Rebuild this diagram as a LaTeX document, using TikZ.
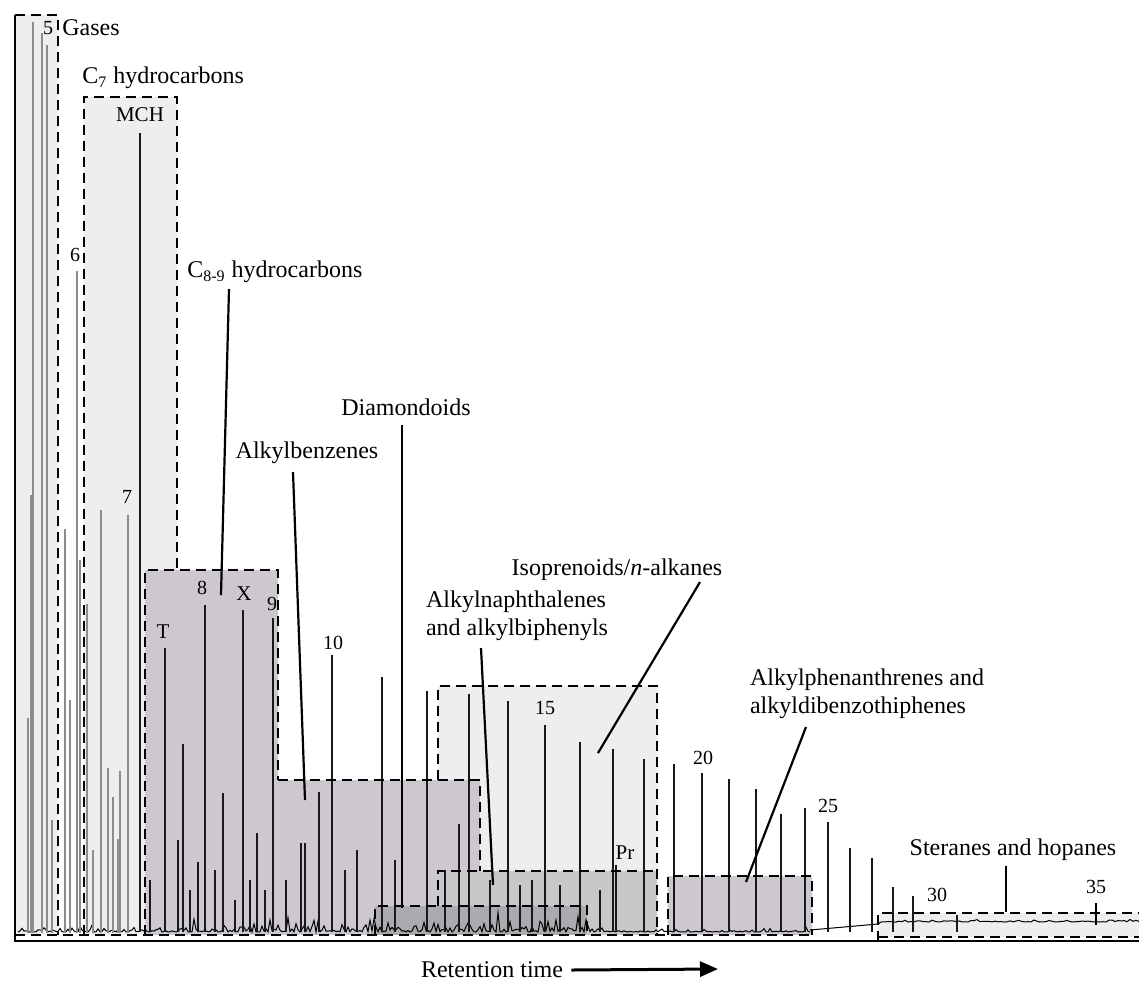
\documentclass[tikz,border=0pt]{standalone}
\usepackage{fontspec}
\setmainfont{Liberation Serif}
\usetikzlibrary{arrows.meta}

\definecolor{lightbox}{RGB}{238,238,238}
\definecolor{mauvebox}{RGB}{205,200,208}
\definecolor{midbox}{RGB}{200,199,201}
\definecolor{darkbox}{RGB}{172,170,174}

\tikzset{
	box/.style={line width=1.3pt, dash pattern=on 5pt off 3pt},
	peak/.style={line width=0.75pt, black!90},
	gpeak/.style={line width=0.9pt, black!45},
	leader/.style={line width=1.1pt},
	lbl/.style={font=\fontsize{12}{14}\selectfont, inner sep=1pt},
	num/.style={font=\fontsize{10}{12}\selectfont, inner sep=1pt},
}

\begin{document}
\begin{tikzpicture}[x=0.5pt,y=-0.5pt]
		
		\useasboundingbox (0,0) rectangle (1139,986);
		
		% shaded windows
		\fill[lightbox] (15,15) rectangle (58,935);
		\fill[lightbox] (84,97) rectangle (177,935);
		\fill[lightbox] (438,686) rectangle (657,935);
		\fill[lightbox] (878,913) rectangle (1139,937);
		\fill[mauvebox] (145,570) rectangle (278,935);
		\fill[mauvebox] (278,780) rectangle (480,935);
		\fill[midbox] (438,871) rectangle (657,935);
		\fill[darkbox] (375,906) rectangle (587,935);
		\fill[mauvebox] (668,876) rectangle (812,935);
		
		% baseline noise
		\pgfmathsetseed{42}
		\draw[line width=0.5pt] (18,932) foreach \i in {20,22,...,810} { -- (\i,{932-(\i<600?(\i>190?22:12):7)*rnd*rnd*rnd}) };
		\draw[line width=0.5pt] (810,930) -- (878,924) foreach \i in {881,884,...,1139} { -- (\i,{922-3*rnd*rnd}) };
		
		% peaks
		\foreach \x/\y in {28/718,31/495,33/22,42/33,47/45,52/820,65/529,70/700,77/271,80/560,
			87/604,93/850,101/510,108/768,113/797,118/839,120/771,128/515}
			\draw[gpeak] (\x,\y) -- (\x,933);
		\foreach \x/\y in {140/133,150/880,165/648,178/840,183/744,190/890,198/862,205/605,215/870,
			223/793,235/900,243/610,250/880,257/833,265/890,273/618,286/880,301/843,305/843,319/792,
			332/655,345/870,357/850,382/677,395/860,427/691,445/870,459/824,469/694,490/880,508/701,
			520/885,532/880,545/725,560/885,580/742,600/890,613/749,616/865,644/759,674/764,702/773,
			729/779,756/789,781/814,805/808,828/822,850/848,872/858,893/887,913/896,957/915}
			\draw[peak] (\x,\y) -- (\x,932);
		\draw[line width=1pt] (1096,903) -- (1096,925);
		
		% dashed windows
		\draw[box] (15,15) -- (58,15) -- (58,935);
		\draw[box] (84,935) -- (84,97) -- (177,97) -- (177,570);
		\draw[box] (145,935) -- (145,570) -- (278,570) -- (278,780);
		\draw[box] (278,780) -- (480,780) -- (480,871);
		\draw[box] (438,780) -- (438,686) -- (657,686) -- (657,935);
		\draw[box] (438,906) -- (438,871) -- (657,871);
		\draw[box] (375,935) -- (375,906) -- (587,906) -- (587,935);
		\draw[box] (15,935) -- (812,935);
		\draw[box] (668,935) -- (668,876) -- (812,876) -- (812,935);
		\draw[box] (878,941) -- (878,913) -- (1139,913);
		\draw[box] (878,937) -- (1139,937);
		
		% axes
		\draw[line width=1.2pt] (15,15) -- (15,941) -- (1139,941);
		
		% peak labels
		\node[num] (n5) at (48,28) {5};
		\node[num] (n6) at (75,255) {6};
		\node[num] (n7) at (127,497) {7};
		\node[num,font=\fontsize{10.5}{12}\selectfont] (mch) at (140,115) {MCH};
		\node[num,font=\fontsize{10.5}{12}\selectfont] (tol) at (163,632) {T};
		\node[num] (n8) at (202,588) {8};
		\node[num,font=\fontsize{10.5}{12}\selectfont] (xyl) at (244,594) {X};
		\node[num] (n9) at (272,604) {9};
		\node[num] (n10) at (333,643) {10};
		\node[num] (n15) at (545,708) {15};
		\node[num,font=\fontsize{10.5}{12}\selectfont] (pr) at (625,853) {Pr};
		\node[num] (n20) at (703,758) {20};
		\node[num] (n25) at (828,806) {25};
		\node[num] (n30) at (937,895) {30};
		\node[num] (n35) at (1096,887) {35};
		
		% window labels
		\node[lbl,anchor=west] (gasL) at (60,28) {Gases};
		\node[lbl,anchor=west] (c7L) at (80,78) {C\textsubscript{7} hydrocarbons};
		\node[lbl,anchor=west] (c89L) at (185,272) {C\textsubscript{8-9} hydrocarbons};
		\node[lbl] (alkbL) at (307,453) {Alkylbenzenes};
		\node[lbl] (diaL) at (406,407) {Diamondoids};
		\node[lbl,align=left] (naphL) at (517,616) {Alkylnaphthalenes\\and alkylbiphenyls};
		\node[lbl] (isoL) at (617,570) {Isoprenoids/\textit{n}-alkanes};
		\node[lbl,align=left] (phenL) at (867,694) {Alkylphenanthrenes and\\alkyldibenzothiphenes};
		\node[lbl] (sterL) at (1013,850) {Steranes and hopanes};
		
		% leaders
		\coordinate (c89a) at (229,289);
		\coordinate (c89b) at (221,595);
		\coordinate (alkba) at (293,472);
		\coordinate (alkbb) at (305,800);
		\coordinate (diaa) at (402,425);
		\coordinate (diab) at (402,908);
		\coordinate (naphb) at (493,885);
		\coordinate (napha) at (481,648);
		\coordinate (isoa) at (700,582);
		\coordinate (isob) at (598,753);
		\coordinate (phena) at (806,727);
		\coordinate (phenb) at (746,882);
		\coordinate (stera) at (1006,866);
		\coordinate (sterb) at (1006,912);
		\draw[leader] (c89a) -- (c89b);
		\draw[leader] (alkba) -- (alkbb);
		\draw[leader] (diaa) -- (diab);
		\draw[leader] (napha) -- (naphb);
		\draw[leader] (isoa) -- (isob);
		\draw[leader] (phena) -- (phenb);
		\draw[leader] (stera) -- (sterb);
		
		% x axis caption
		\node[lbl] (rt) at (492,970) {Retention time};
		\coordinate (rtend) at (718,969);
		\draw[line width=1.5pt,-{Triangle[length=9pt,width=7.5pt]}] ([xshift=3pt]rt.east) -- (rtend);
	
		\end{tikzpicture}
\end{document}
